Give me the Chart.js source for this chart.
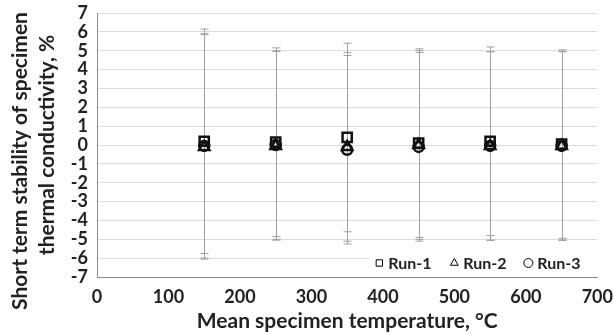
<!DOCTYPE html>
<html>
<head>
<meta charset="utf-8">
<script src="https://cdn.jsdelivr.net/npm/chart.js@4.4.0/dist/chart.umd.min.js"></script>
<style>
  html, body { margin: 0; padding: 0; background: #fff; }
  #wrap { width: 613px; height: 335px; }
</style>
</head>
<body>
<div id="wrap"><canvas id="myChart" width="613" height="335"></canvas></div>
<script>
// --- DATI ---
const temps = [150, 250, 350, 450, 550, 650];
const run1 = [0.2, 0.15, 0.4, 0.1, 0.2, 0.05];
const run2 = [-0.1, -0.05, -0.1, 0, -0.05, -0.05];
const run3 = [-0.05, 0, -0.25, -0.1, -0.05, -0.05];
// semi-ampiezza barre d'errore (%)
const err1 = [5.95, 5, 5, 5, 5, 5];
const err2 = [5.95, 5, 5, 5, 5, 5];
const err3 = [5.95, 5, 5, 5, 5, 5];
const runLabels = ['Run-1', 'Run-2', 'Run-3'];
const pointStyles = ['rect', 'triangle', 'circle'];
const xTicks = [0, 100, 200, 300, 400, 500, 600, 700];
const yTicks = [-7, -6, -5, -4, -3, -2, -1, 0, 1, 2, 3, 4, 5, 6, 7];
const yTitle = ['Short term stability of specimen', 'thermal conductivity, %'];

const FONT = "Lato, 'Open Sans', sans-serif";
const series = [run1, run2, run3];
const errors = [err1, err2, err3];

// barre d'errore disegnate con le scale del grafico
const errorBars = {
    id: 'errorBars',
    beforeDatasetsDraw(chart) {
        const ctx = chart.ctx;
        const xs = chart.scales.x, ys = chart.scales.y;
        ctx.save();
        ctx.strokeStyle = '#a0a0a0';
        ctx.lineWidth = 1;
        chart.data.datasets.forEach((ds, di) => {
            ds.data.forEach((p, i) => {
                const e = errors[di][i];
                const x = Math.round(xs.getPixelForValue(p.x)) + 0.5;
                const yt = ys.getPixelForValue(p.y + e);
                const yb = ys.getPixelForValue(p.y - e);
                ctx.beginPath();
                ctx.moveTo(x, yt); ctx.lineTo(x, yb);
                ctx.moveTo(x - 4, yt); ctx.lineTo(x + 4, yt);
                ctx.moveTo(x - 4, yb); ctx.lineTo(x + 4, yb);
                ctx.stroke();
            });
        });
        ctx.restore();
    }
};

// legenda dentro l'area del grafico + titolo asse y (due righe, come in Excel)
const extras = {
    id: 'extras',
    afterDraw(chart) {
        const ctx = chart.ctx;
        const a = chart.chartArea;
        const y = a.bottom - 14;
        const starts = [a.right - 218, a.right - 143, a.right - 69];
        ctx.save();
        ctx.fillStyle = '#fff';
        ctx.fillRect(a.right - 228, y - 10, 228, 20);
        ctx.font = "bold 16px " + FONT;
        ctx.textBaseline = 'middle';
        chart.data.datasets.forEach((ds, i) => {
            const x = starts[i];
            ctx.strokeStyle = '#000';
            ctx.fillStyle = 'rgba(0,0,0,0)';
            Chart.helpers.drawPoint(ctx, {
                pointStyle: ds.pointStyle, rotation: 0, radius: 4.5, borderWidth: 2
            }, x, y);
            ctx.fillStyle = '#222';
            ctx.fillText(ds.label, x + 9, y + 1);
        });

        ctx.font = "bold 21px " + FONT;
        ctx.textAlign = 'center';
        ctx.fillStyle = '#222';
        ctx.translate(20, 161);
        ctx.rotate(-Math.PI / 2);
        ctx.fillText(yTitle[0], 0, 0);
        ctx.fillText(yTitle[1], 16, 27);
        ctx.restore();
    }
};

const datasets = series.map((vals, i) => ({
    label: runLabels[i],
    data: temps.map((t, j) => ({ x: t, y: vals[j] })),
    showLine: false,
    pointStyle: pointStyles[i],
    pointRadius: [6.5, 6, 5][i],
    pointBorderWidth: 2.5,
    pointBorderColor: '#111',
    pointBackgroundColor: 'rgba(0,0,0,0)'
}));

const ctx = document.getElementById('myChart').getContext('2d');
new Chart(ctx, {
    type: 'scatter',
    data: { datasets },
    plugins: [errorBars, extras],
    options: {
        responsive: false,
        animation: false,
        layout: { padding: { left: 0, right: 15, top: 13, bottom: 0 } },
        plugins: {
            legend: { display: false },
            tooltip: { enabled: false }
        },
        scales: {
            x: {
                type: 'linear',
                min: 0, max: 700,
                afterBuildTicks: s => { s.ticks = xTicks.map(v => ({ value: v })); },
                afterFit: s => { s.height = 58; },
                grid: { display: true, color: 'rgba(0,0,0,0)', drawTicks: true, tickLength: 9, tickColor: 'rgba(0,0,0,0)' },
                border: { display: true, color: '#8c8c8c', width: 1 },
                ticks: { autoSkip: false, maxRotation: 0, color: '#222', padding: 0, font: { family: FONT, size: 18, weight: 'bold' } },
                title: {
                    display: true,
                    text: 'Mean specimen temperature, °C',
                    color: '#222',
                    padding: { top: 0, bottom: 1 },
                    font: { family: FONT, size: 21, weight: 'bold' }
                }
            },
            y: {
                min: -7, max: 7,
                afterBuildTicks: s => { s.ticks = yTicks.map(v => ({ value: v })); },
                afterFit: s => { s.width = 97; },
                grid: { color: '#dcdcdc', drawTicks: true, tickLength: 9, tickColor: 'rgba(0,0,0,0)' },
                border: { display: true, color: '#8c8c8c', width: 1 },
                ticks: { autoSkip: false, color: '#222', padding: 0, font: { family: FONT, size: 18, weight: 'bold' } },
                title: { display: false }
            }
        }
    }
});
</script>
</body>
</html>
